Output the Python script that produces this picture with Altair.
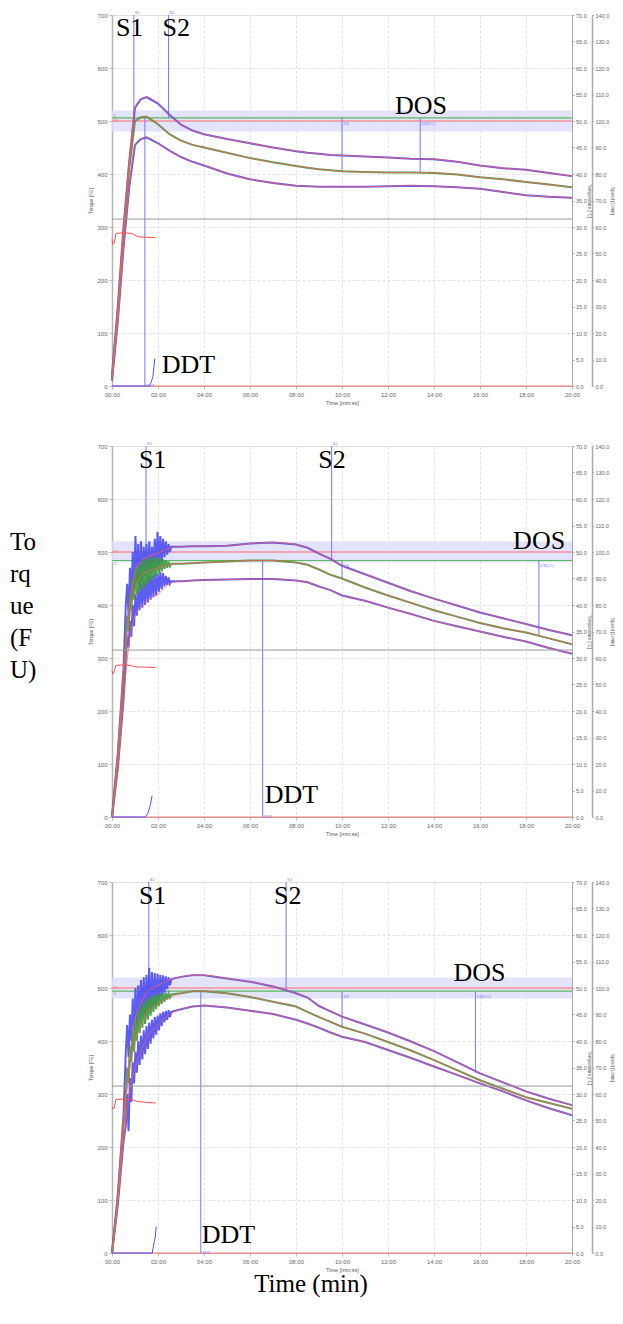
import altair as alt
import pandas as pd

# ---------------- data ----------------
T = [0, 0.25, 0.5, 0.75, 1.0, 1.25, 1.5, 2.0, 2.5, 3, 3.5, 4, 5, 6, 7, 8, 8.5, 9, 9.5, 10,
     11, 12, 13, 14, 15, 16, 17, 18, 19, 20]

P1_UP = [20, 150, 300, 425, 525, 541, 545, 533, 512, 493, 482, 475, 466, 458, 450, 443, 440, 438, 436, 435,
         433, 431, 429, 428, 423, 416, 411, 408, 402, 396]
P1_MD = [15, 135, 285, 410, 500, 507, 508, 494, 475, 463, 455, 450, 440, 430, 422, 415, 412, 409, 407, 405,
         404, 403, 403, 402, 399, 394, 390, 385, 380, 375]
P1_LO = [10, 120, 260, 375, 455, 466, 469, 458, 444, 432, 423, 416, 401, 390, 383, 378, 377, 376, 376, 376,
         376, 377, 378, 377, 375, 372, 366, 360, 357, 355]

P2_UP = [0, 120, 280, 400, 460, 483, 490, 498, 507, 510, 511, 511, 512, 516, 518, 514, 508, 497, 487, 474,
         458, 442, 426, 412, 399, 386, 375, 364, 353, 343]
P2_MD = [0, 110, 260, 370, 430, 455, 462, 470, 476, 478, 479, 480, 482, 484, 484, 480, 476, 467, 457, 450,
         433, 418, 404, 390, 378, 366, 356, 348, 337, 326]
P2_LO = [0, 90, 220, 330, 380, 397, 408, 420, 440, 445, 446, 447, 448, 449, 449, 446, 443, 435, 428, 418,
         408, 395, 383, 370, 360, 350, 340, 331, 319, 308]

P3_UP = [0, 110, 260, 370, 440, 470, 490, 505, 515, 521, 524, 524, 518, 512, 503, 490, 482, 466, 456, 446,
         431, 416, 399, 381, 360, 339, 322, 305, 291, 279]
P3_MD = [0, 100, 240, 340, 400, 430, 452, 470, 482, 490, 494, 494, 490, 483, 474, 465, 455, 445, 436, 427,
         414, 398, 382, 364, 345, 326, 310, 294, 283, 272]
P3_LO = [0, 90, 210, 300, 350, 380, 405, 430, 450, 460, 465, 467, 463, 457, 451, 440, 433, 425, 416, 408,
         398, 383, 368, 352, 336, 320, 305, 288, 273, 260]

# early oscillating raw signal (mixing phase)
OSC_T = [0.60, 0.66, 0.72, 0.78, 0.84, 0.90, 0.96, 1.02, 1.08, 1.14, 1.20, 1.26, 1.32, 1.38, 1.44, 1.50, 1.56,
         1.62, 1.68, 1.74, 1.80, 1.86, 1.92, 1.98, 2.04, 2.10, 2.16, 2.22, 2.28, 2.34, 2.40, 2.46, 2.52, 2.58]
P2_UP_OSC = [400, 440, 380, 470, 410, 500, 430, 530, 440, 515, 430, 520, 445, 510, 455, 515, 450,
             520, 460, 510, 465, 525, 470, 538, 475, 530, 480, 525, 490, 520, 495, 515, 500, 510]
P2_LO_OSC = [300, 340, 320, 370, 340, 400, 360, 420, 380, 430, 390, 440, 395, 445, 400, 450, 405,
             455, 410, 455, 415, 460, 418, 460, 425, 462, 430, 460, 435, 455, 438, 452, 440, 445]
P2_MD_OSC = [330, 380, 350, 420, 390, 450, 410, 470, 420, 475, 425, 480, 430, 485, 435, 488, 440,
             490, 445, 488, 450, 490, 455, 490, 460, 488, 463, 486, 468, 484, 470, 482, 473, 478]
P3_UP_OSC = [380, 430, 370, 450, 400, 480, 420, 500, 430, 505, 440, 515, 445, 520, 450, 525, 455,
             538, 460, 530, 465, 528, 470, 527, 478, 525, 485, 524, 490, 522, 498, 520, 505, 517]
P3_LO_OSC = [240, 300, 230, 330, 285, 360, 320, 380, 340, 400, 355, 410, 365, 420, 375, 428, 385,
             435, 395, 440, 405, 445, 412, 448, 420, 452, 428, 455, 435, 457, 440, 458, 445, 455]
P3_MD_OSC = [300, 350, 320, 390, 360, 420, 380, 440, 400, 455, 415, 465, 425, 472, 432, 478, 440,
             482, 448, 485, 455, 487, 460, 488, 466, 489, 470, 490, 474, 490, 478, 490, 482, 488]

# consistency lines (C) per panel, TC target line and tolerance band
C_LEVEL = [506, 484, 494]
TC_LEVEL = 500
BAND = [480, 520]

# event markers: (time, bottom FU, top FU)
P1_MARK_T = [0.95, 2.46, 1.43, 10.0, 13.4]
P1_MARK_LO = [500, 505, 0, 405, 403]
P1_MARK_HI = [700, 700, 508, 506, 506]
P2_MARK_T = [1.48, 9.55, 6.55, 10.0, 18.56]
P2_MARK_LO = [480, 484, 0, 450, 343]
P2_MARK_HI = [700, 700, 484, 484, 484]
P3_MARK_T = [1.6, 7.57, 3.86, 10.0, 15.8]
P3_MARK_LO = [496, 496, 0, 427, 340]
P3_MARK_HI = [700, 700, 494, 494, 494]

# big annotation labels
BIG_NAMES = ["S1", "S2", "DOS", "DDT"]
P1_BIG_T = [0.17, 2.2, 12.3, 2.16]
P1_BIG_V = [660, 660, 513, 24]
P2_BIG_T = [1.17, 8.97, 17.44, 6.64]
P2_BIG_V = [658, 658, 506, 26]
P3_BIG_T = [1.17, 7.04, 14.85, 3.9]
P3_BIG_V = [659, 659, 513, 19]

# water dosing trace (bottom blue)
P1_W_T = [0, 1.62, 1.68, 1.74, 1.78, 1.82, 1.86]
P1_W_V = [0, 0, 5, 12, 18, 35, 52]
P2_W_T = [0, 1.45, 1.55, 1.62, 1.68, 1.74]
P2_W_V = [0, 0, 6, 15, 25, 40]
P3_W_T = [0, 1.75, 1.80, 1.84, 1.88, 1.92]
P3_W_V = [0, 0, 12, 22, 30, 50]

# dough temperature (°C)
TEMP_T = [0, 0.04, 0.1, 0.17, 0.5, 0.85, 0.95, 1.1, 1.3, 1.9]
P1_TEMP = [27.7, 26.7, 27.0, 28.8, 28.9, 28.8, 28.6, 28.2, 28.1, 28.0]
P2_TEMP = [27.6, 27.0, 27.5, 28.6, 28.7, 28.6, 28.4, 28.3, 28.3, 28.2]
P3_TEMP = [27.6, 27.2, 27.4, 29.0, 29.0, 29.0, 28.8, 28.6, 28.5, 28.3]

SPEED = 63
X_TICKS = [0, 2, 4, 6, 8, 10, 12, 14, 16, 18, 20]
Y_TICKS = [0, 100, 200, 300, 400, 500, 600, 700]
TEMP_TICKS = [0, 5, 10, 15, 20, 25, 30, 35, 40, 45, 50, 55, 60, 65, 70]
SPEED_TICKS = [0, 10, 20, 30, 40, 50, 60, 70, 80, 90, 100, 110, 120, 130, 140]

# ---------------- styling ----------------
W, H = 460, 371
BLUE = "#4b4bf2"
GREEN = "#3d9a3d"
RED = "#ff5c5c"
MARK_BLUE = "#7676ff"
SERIF = "Liberation Serif"
SANS = "Liberation Sans"

xs = alt.Scale(domain=[0, 20], nice=False, zero=False)
ys = alt.Scale(domain=[0, 700], nice=False)
axis_x = alt.Axis(values=X_TICKS, title="Time [mm:ss]",
                  labelExpr="(datum.value < 10 ? '0' : '') + datum.value + ':00'",
                  labelFontSize=6, titleFontSize=5.5, titlePadding=3, labelPadding=2, labelFlush=False,
                  tickSize=3, grid=True, gridColor="#e3e3e3", gridDash=[3, 2],
                  domainColor="#bbbbbb", tickColor="#bbbbbb", labelColor="#666", titleColor="#555",
                  labelFont=SANS, titleFont=SANS, titleFontWeight="normal")
axis_y = alt.Axis(values=Y_TICKS, title="Torque [FE]", orient="left",
                  labelFontSize=6, titleFontSize=5, titlePadding=3, labelPadding=2, labelFlush=False,
                  tickSize=3, grid=True, gridColor="#e3e3e3", gridDash=[3, 2],
                  domainColor="#b5b5b5", domainWidth=1.5, tickColor="#bbbbbb",
                  labelColor="#666", titleColor="#555", labelFont=SANS, titleFont=SANS,
                  titleFontWeight="normal")
axis_temp = alt.Axis(values=TEMP_TICKS, format=".1f", title="Temperature [°C]", orient="right",
                     labelFontSize=5.5, titleFontSize=4.5, titlePadding=0.5, labelPadding=1.5,
                     labelFlush=False, tickSize=2, grid=False, domainColor="#aaaaaa", tickColor="#aaaaaa",
                     labelColor="#666", titleColor="#555", labelFont=SANS, titleFont=SANS,
                     titleFontWeight="normal")
axis_speed = alt.Axis(values=SPEED_TICKS, format=".1f", title="Speed [1/min]", orient="right",
                      offset=20, labelFontSize=5.5, titleFontSize=4.5, titlePadding=0.5, labelPadding=1.5,
                      labelFlush=False, tickSize=1.5, grid=False, domainColor="#aaaaaa", domainWidth=1.5,
                      tickColor="#aaaaaa", labelColor="#666", titleColor="#555",
                      labelFont=SANS, titleFont=SANS, titleFontWeight="normal")

X = alt.X("t:Q", scale=xs, axis=axis_x)
Y = alt.Y("v:Q", scale=ys, axis=axis_y)


def raw_series(up, md, lo, osc):
    rows = []
    for name, vals, col, oi in (("up", up, BLUE, 0), ("lo", lo, BLUE, 2), ("md", md, GREEN, 1)):
        pts = []
        for t, v in zip(T, vals):
            if osc is None or t < OSC_T[0] or t > OSC_T[-1]:
                pts.append((t, v))
        if osc is not None:
            pts += list(zip(OSC_T, osc[oi]))
        pts.sort()
        rows += [{"t": t, "v": v, "s": name, "col": col} for t, v in pts]
    return pd.DataFrame(rows)


def panel(up, md, lo, osc, c_level, mark_t, mark_lo, mark_hi, big_t, big_v,
          w_t, w_v, temp, side_text, bottom_text, top_extra):
    rules = [
        {"t": 0, "t2": 20, "v": 0, "v2": 0, "col": "#ff7a7a", "w": 1.2},
        {"t": 0, "t2": 20, "v": c_level, "v2": c_level, "col": "#5cb85c", "w": 1.2},
        {"t": 0, "t2": 20, "v": TC_LEVEL, "v2": TC_LEVEL, "col": "#ff6b6b", "w": 1.2},
    ]
    for t, a, b in zip(mark_t, mark_lo, mark_hi):
        rules.append({"t": t, "t2": t, "v": a, "v2": b, "col": MARK_BLUE, "w": 1})
    rules_df = pd.DataFrame(rules)

    band = alt.Chart(pd.DataFrame([{"t": 0, "t2": 20, "v": BAND[0], "v2": BAND[1]}])).mark_rect(
        color="#dcdcfa", opacity=0.8).encode(x=X, x2="t2:Q", y=Y, y2="v2:Q")

    rule_layer = alt.Chart(rules_df).mark_rule().encode(
        x=X, x2="t2:Q", y=Y, y2="v2:Q",
        color=alt.Color("col:N", scale=None), strokeWidth=alt.StrokeWidth("w:Q", scale=None))

    raw = alt.Chart(raw_series(up, md, lo, osc)).mark_line(strokeWidth=2.0, opacity=0.9).encode(
        x=X, y=Y, detail="s:N", color=alt.Color("col:N", scale=None))

    smooth_rows = []
    for name, vals in (("up", up), ("md", md), ("lo", lo)):
        smooth_rows += [{"t": t, "v": v, "s": name} for t, v in zip(T, vals)]
    smooth = alt.Chart(pd.DataFrame(smooth_rows)).mark_line(
        color=RED, strokeWidth=0.9, opacity=0.85, interpolate="monotone").encode(x=X, y=Y, detail="s:N")

    water = alt.Chart(pd.DataFrame({"t": w_t, "v": w_v})).mark_line(
        color="#5050ff", strokeWidth=1).encode(x=X, y=Y)

    big = alt.Chart(pd.DataFrame({"t": big_t, "v": big_v, "txt": BIG_NAMES})).mark_text(
        font=SERIF, fontSize=26, align="left", baseline="alphabetic", color="black").encode(
        x=X, y=Y, text="txt:N")

    # tiny instrument labels
    top_rows = [
        {"t": mark_t[0] + 0.04, "v": 700, "txt": "S1", "col": MARK_BLUE},
        {"t": mark_t[1] + 0.04, "v": 700, "txt": "S2", "col": MARK_BLUE},
    ]
    tiny_top = alt.Chart(pd.DataFrame(top_rows)).mark_text(
        font=SANS, fontSize=4, align="left", baseline="bottom", dy=-0.5).encode(
        x=X, y=Y, text="txt:N", color=alt.Color("col:N", scale=None))

    tiny_rows = [
        {"t": mark_t[2] + 0.06, "v": 3, "txt": "DDT", "col": MARK_BLUE},
        {"t": mark_t[3] + 0.06, "v": c_level - 7, "txt": "DS", "col": MARK_BLUE},
        {"t": mark_t[4] + 0.06, "v": c_level - 7, "txt": "DS(CC)", "col": MARK_BLUE},
        {"t": 0.06, "v": TC_LEVEL + 3, "txt": "TC", "col": "#ff6b6b"},
        {"t": 0.06, "v": c_level + (8 if c_level > TC_LEVEL else -2), "txt": "C", "col": "#3d9a3d"},
    ]
    tiny = alt.Chart(pd.DataFrame(tiny_rows)).mark_text(
        font=SANS, fontSize=4, align="left", baseline="top").encode(
        x=X, y=Y, text="txt:N", color=alt.Color("col:N", scale=None))

    side = alt.Chart(pd.DataFrame({"txt": ["To\nrq\nue\n(F\nU)"]})).mark_text(
        font=SERIF, fontSize=25, align="left", baseline="alphabetic", lineHeight=32,
        lineBreak="\n", color="black", opacity=1 if side_text else 0).encode(
        x=alt.value(-102), y=alt.value(104), text="txt:N")

    layers = [band, rule_layer, raw, smooth, water, big, tiny, tiny_top, side]
    if bottom_text:
        layers.append(alt.Chart(pd.DataFrame({"txt": ["Time (min)"]})).mark_text(
            font=SERIF, fontSize=25, align="center", baseline="middle", color="black").encode(
            x=alt.value(199), y=alt.value(402), text="txt:N"))
    if top_extra:
        layers.append(alt.Chart(pd.DataFrame({"k": [0]})).mark_rule(strokeOpacity=0).encode(
            x=alt.value(0), x2=alt.value(2), y=alt.value(-top_extra)))

    torque = alt.layer(*layers)

    temp_layer = alt.Chart(pd.DataFrame({"t": TEMP_T, "c": temp})).mark_line(
        color="#ff5050", strokeWidth=1).encode(
        x=X, y=alt.Y("c:Q", scale=alt.Scale(domain=[0, 70], nice=False), axis=axis_temp))

    speed_layer = alt.Chart(pd.DataFrame({"t": [0], "t2": [20], "s": [SPEED]})).mark_rule(
        color="#9a9a9a", strokeWidth=1).encode(
        x=X, x2="t2:Q", y=alt.Y("s:Q", scale=alt.Scale(domain=[0, 140], nice=False), axis=axis_speed))

    return alt.layer(torque, temp_layer, speed_layer).resolve_scale(y="independent").properties(
        width=W, height=H)


p1 = panel(P1_UP, P1_MD, P1_LO, None, C_LEVEL[0], P1_MARK_T, P1_MARK_LO, P1_MARK_HI,
           P1_BIG_T, P1_BIG_V, P1_W_T, P1_W_V, P1_TEMP, False, False, 0)
p2 = panel(P2_UP, P2_MD, P2_LO, (P2_UP_OSC, P2_MD_OSC, P2_LO_OSC), C_LEVEL[1], P2_MARK_T, P2_MARK_LO,
           P2_MARK_HI, P2_BIG_T, P2_BIG_V, P2_W_T, P2_W_V, P2_TEMP, True, False, 0)
p3 = panel(P3_UP, P3_MD, P3_LO, (P3_UP_OSC, P3_MD_OSC, P3_LO_OSC), C_LEVEL[2], P3_MARK_T, P3_MARK_LO,
           P3_MARK_HI, P3_BIG_T, P3_BIG_V, P3_W_T, P3_W_V, P3_TEMP, False, True, 9)

chart = alt.vconcat(p1, p2, p3, spacing=35).properties(
    padding={"left": 1, "top": 2, "right": 0, "bottom": 5}
).configure_view(stroke="#c8c8c8").configure(background="white")

chart.save("out.html", embed_options={"renderer": "svg", "actions": False})
